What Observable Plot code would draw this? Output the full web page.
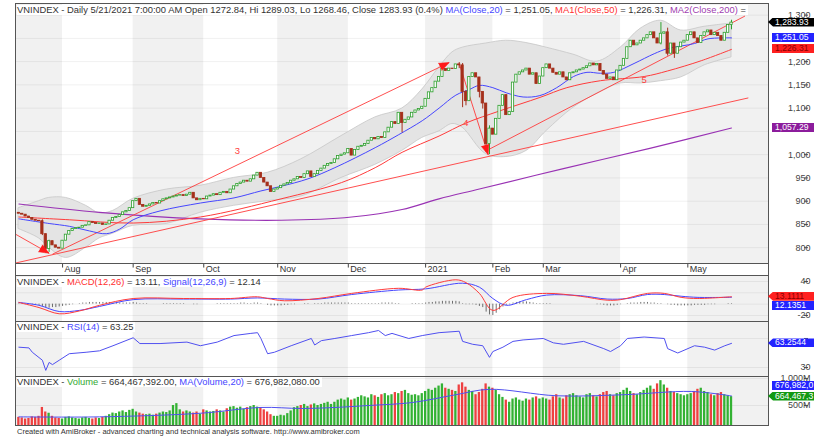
<!DOCTYPE html>
<html><head><meta charset="utf-8">
<script src="https://cdn.jsdelivr.net/npm/d3@7"></script>
<script src="https://cdn.jsdelivr.net/npm/@observablehq/plot@0.6"></script>
<style>
html,body{margin:0;padding:0;background:#fff;}
#wrap{position:relative;width:839px;height:446px;overflow:hidden;background:#fff;font-family:"Liberation Sans",Arial,sans-serif;}
#wrap svg{position:absolute;left:0;}
.t{position:absolute;left:17px;font-size:9.4px;color:#333;white-space:nowrap;line-height:10px;background:#fff;padding-right:2px;}
.lbl{position:absolute;height:9px;line-height:9px;font-size:8.6px;white-space:nowrap;overflow:hidden;text-align:left;}
.hl{position:absolute;background:#555;}
</style></head><body><div id="wrap"></div>
<script>
// ---------------- data ----------------
const monthLabels = ["Aug","Sep","Oct","Nov","Dec","2021","Feb","Mar","Apr","May"];
const monthStart  = [13, 34, 55, 77, 98, 121, 141, 156, 179, 199];
const shadedMonths = [[-1,13],[34,55],[77,98],[121,141],[156,179],[199,224]];

const firstOpen = 875;
const closes = [
 873,871,867,864,860,858,857,829,797,814,805,800,798,
 815,828,836,840,842,843,847,848,855,853,851,852,849,850,858,864,866,870,876,879,885,
 900,905,892,888,890,893,896,895,900,904,906,908,910,912,913,911,914,918,906,902,905,
 904,910,912,915,913,918,920,917,925,932,937,940,944,942,947,955,961,950,940,932,920,925,
 928,933,936,939,944,947,952,950,958,964,952,958,965,970,976,980,982,990,997,1000,1003,
 1012,998,1010,1017,1019,1023,1030,1036,1033,1038,1036,1048,1058,1070,1066,1090,1068,1075,1080,1090,1095,1098,1103,
 1120,1134,1143,1157,1167,1184,1180,1185,1184,1194,1192,1135,1115,1167,1175,1166,1135,1110,1023,1056,
 1043,1077,1105,1128,1085,1092,1155,1172,1177,1181,1185,1172,1175,1152,1168,
 1186,1194,1185,1176,1172,1177,1166,1160,1175,1177,1181,1183,1186,1190,1196,1192,1195,1180,1172,1163,1166,1160,1181,
 1191,1206,1231,1245,1235,1239,1245,1250,1257,1263,1250,1239,1260,1263,1217,1239,1217,1231,1241,1245,
 1257,1263,1250,1240,1255,1263,1267,1257,1262,1255,1245,1262,1278.8,1283.93
];
// [bar, high, low] for visible wicks
const wicks = [[7,860,826],[8,830,788],[9,816,790],[114,1090,1047],[131,1198,1185],[132,1196,1101],
 [133,1138,1105],[137,1166,1122],[138,1135,1098],[139,1110,1005],[140,1062,1000],[191,1284,1236],
 [193,1272,1212],[195,1239,1207],[212,1289.03,1268.46]];

const volumes = [
 280,270,250,260,290,280,300,464,380,357,300,270,260,
 250,280,290,270,260,250,270,280,260,250,270,260,280,300,330,360,350,380,400,370,410,
 430,380,360,340,330,340,320,340,360,380,370,400,500,535,420,380,400,380,360,380,340,
 420,400,380,390,420,400,380,440,470,480,450,470,430,460,480,500,470,460,420,380,330,300,
 300,320,310,350,400,460,480,500,520,480,510,530,500,520,540,560,520,560,600,620,600,
 640,600,620,650,680,660,640,700,680,650,700,720,680,700,740,720,760,780,720,690,700,680,720,
 760,800,780,820,860,900,820,800,780,760,880,920,840,780,760,700,740,800,900,840,
 820,780,700,650,600,560,620,640,600,580,620,600,640,660,620,
 640,620,600,660,700,640,620,680,700,720,680,660,640,700,720,680,660,700,740,760,700,680,720,
 740,780,820,760,720,700,740,780,820,860,800,900,960,880,820,760,740,720,700,680,
 700,720,760,800,820,760,740,700,680,720,740,700,680,664.467
];
const volMa = [[0,290],[24,290],[54,357],[72,464],[84,445],[94,464],[104,500],[117,555],[130,700],[140,800],[160,680],[180,700],[200,760],[212,676.982]];

const ma20 = [[0,862],[9,852],[15,846],[21,836],[26,830],[30,840],[34,860],[42,879],[54,896],[64,907],[72,922],[78,932],[86,948],[94,972],[106,1015],[113,1043],[120,1073],[125,1100],[130,1128],[134,1140],[137,1149],[141,1144],[145,1133],[150,1124],[155,1127],[160,1144],[165,1168],[169,1177],[173,1175],[177,1177],[183,1196],[189,1217],[193,1228],[201,1239],[205,1249],[212,1251.05]];
const ma50 = [[0,866],[15,860],[34,853],[54,866],[78,905],[96,940],[106,972],[114,1005],[125,1040],[133,1068],[143,1094],[155,1123],[163,1144],[173,1159],[186,1168],[193,1180],[203,1202],[212,1226.31]];
const ma200 = [[0,894],[24,876],[54,862],[78,859],[99,866],[114,882],[125,905],[137,926],[162,970],[188,1014],[212,1057.29]];

const bbIdx   = [0,6,9,14,20,24,28,34,44,54,64,74,84,96,106,114,120,125,129,132,139,145,151,157,165,172,179,185,191,197,204,212];
const bbUpper = [885,900,907,907,890,874,879,905,925,933,950,961,990,1040,1080,1099,1140,1187,1220,1230,1239,1245,1240,1230,1215,1200,1230,1271,1288,1267,1275,1282];
const bbLower = [840,820,800,778,800,820,830,847,851,875,890,900,910,950,978,1008,1036,1050,1066,1058,1001,995,1008,1051,1101,1131,1153,1153,1158,1166,1192,1209];

// trend lines: [bar1, value1, bar2, value2]
const trendLines = [[-1,767,217,1122],[140,1012,216,1298]];
// arrows with filled heads: [bar1, value1, bar2, value2]
const arrowLines = [[10,786,128,1198],[-1,829,9,788],[131,1196,139.6,1000]];
const trendLabels = [[65,1008,"3"],[133,1069,"4"],[186,1161,"5"]];

const macdPts = [[0,3],[6,-6],[12,-17],[18,-12],[24,-2],[34,10],[49,10],[63,10],[71,13],[74,10],[79,6],[89,10],[99,19],[113,28],[120,25],[121,30],[130,43],[133,38],[137,19],[141,-11],[147,12],[157,19],[167,14],[175,7],[179,8],[187,19],[192,19],[197,12],[202,10],[212,13.11]];
const signalPts = [[0,3],[6,-2],[12,-13],[18,-11],[24,-4],[34,8],[49,9],[63,9],[71,11],[79,9],[89,9],[99,17],[113,25],[121,27],[132,37],[137,30],[141,10],[145,-2],[151,8],[157,16],[167,15],[175,9],[181,10],[187,17],[192,17],[197,14],[202,12],[212,12.14]];
const hist = [
 1,1,0,-1,-1,-2,-2,-4,-6,-7,-6,-6,-5,
 -4,-3,-2,-1,0,1,2,2,3,3,3,3,3,3,3,2,2,2,2,2,2,
 3,2,1,1,1,0,0,0,0,1,1,1,1,1,1,1,0,0,-1,-1,0,
 0,0,0,0,1,1,1,1,1,1,1,2,2,1,1,2,2,1,0,-2,-3,-3,
 -3,-3,-2,-2,-1,-1,0,0,1,1,0,1,1,1,2,2,2,2,2,2,2,
 2,1,1,1,1,1,1,1,1,1,2,2,2,2,1,1,0,0,0,1,1,1,1,
 2,3,3,4,4,5,5,5,5,5,4,1,-1,-1,-1,-2,-4,-6,-14,-19,
 -20,-16,-10,-5,-2,-1,2,3,4,4,4,3,2,1,1,
 1,1,1,0,0,0,0,0,0,0,0,0,0,0,0,0,-1,-1,-2,-3,-3,-3,-2,
 -1,0,1,2,2,2,3,3,3,2,2,1,1,0,-1,-2,-2,-3,-3,-3,
 -3,-3,-2,-2,-2,-2,-1,-1,-1,0,0,0,1,1
];

const rsiPts = [[0,58],[3,57],[4,51],[7,40],[8,26],[9,37],[10,34],[12,40],[15,49],[20,51],[24,53],[28,60],[34,71],[36,63],[42,63],[50,65],[54,60],[59,65],[64,74],[69,77],[71,78],[72,70],[74,49],[76,51],[81,60],[87,70],[88,61],[90,67],[94,70],[99,74],[104,78],[107,81],[109,74],[111,77],[116,70],[120,74],[125,78],[131,80],[132,66],[135,62],[138,60],[140,44],[141,52],[144,58],[147,66],[150,68],[156,70],[159,64],[162,62],[168,66],[174,56],[176,52],[179,60],[181,70],[186,72],[192,70],[193,56],[196,50],[201,60],[204,58],[207,54],[210,60],[212,63.25]];

const priceTicks = [800,850,900,950,1000,1050,1100,1150,1200,1250,1300];
const macdTicks = [40,20,0,-20];
const rsiTicks = [70,30];
const volTicks = [500,1000];

// ---------------- build ----------------
const wrap = document.getElementById("wrap");
const W = 839, XL = 15, XR = 768;
const xDomain = [-1, 223];
const FONT = '"Liberation Sans", Arial, sans-serif';
const UP = "#2ea02e", DN = "#a5301c", RED = "#ff3b3b", BLUE = "#4646ff", PURPLE = "#9932b4";

const wickMap = new Map(wicks.map(w => [w[0], w]));
const bars = closes.map((c, i) => {
  const o = i === 0 ? firstOpen : closes[i - 1];
  const w = wickMap.get(i);
  return {i, o, c, h: w ? w[1] : Math.max(o, c), l: w ? w[2] : Math.min(o, c), up: c >= o, v: volumes[i], hist: hist[i]};
});
const bands = shadedMonths.map(([a, b]) => ({a, b}));
const bb = bbIdx.map((i, k) => ({i, hi: bbUpper[k], lo: bbLower[k]}));

function pane(top, height, yDomain, ticks, labelTicks, fmt, marks) {
  const svg = Plot.plot({
    width: W, height, marginLeft: XL, marginRight: W - XR, marginTop: 0, marginBottom: 0,
    x: {domain: xDomain, axis: null},
    y: {domain: yDomain, axis: null},
    style: {background: "transparent", fontFamily: FONT, overflow: "visible"},
    marks: [
      Plot.rect(bands, {x1: "a", x2: "b", y1: () => yDomain[0], y2: () => yDomain[1], fill: "#f1f1f1", clip: true}),
      Plot.gridY(ticks, {stroke: "#000", strokeOpacity: 0.06}),
      ...marks,
      Plot.axisY(ticks, {anchor: "right", label: null, tickSize: 4, tickPadding: 3, textAnchor: "end", dx: 35,
        tickFormat: d => labelTicks.includes(d) ? fmt(d) : "", fill: "#444", fontSize: 9, stroke: "#555"})
    ]
  });
  svg.style.top = top + "px";
  wrap.appendChild(svg);
  return svg;
}

// price pane
const priceTop = 3, priceH = 260;
const price = pane(priceTop, priceH, [766, 1325], priceTicks, priceTicks.filter(d => d !== 1050 && d !== 1250), d3.format(","), [
  Plot.areaY(bb, {x: "i", y1: "lo", y2: "hi", curve: "catmull-rom", fill: "#e4e4e4", stroke: "#c6c6c6", strokeWidth: 0.8}),
  Plot.line(ma200, {x: d => d[0], y: d => d[1], curve: "catmull-rom", stroke: PURPLE, strokeWidth: 1.1}),
  Plot.line(ma50, {x: d => d[0], y: d => d[1], curve: "catmull-rom", stroke: RED, strokeWidth: 1}),
  Plot.link(trendLines, {x1: d => d[0], y1: d => d[1], x2: d => d[2], y2: d => d[3], stroke: RED, strokeWidth: 0.9, clip: true}),
  Plot.link(arrowLines, {x1: d => d[0], y1: d => d[1], x2: d => d[2], y2: d => d[3], stroke: RED, strokeWidth: 0.9, clip: true}),
  Plot.line(ma20, {x: d => d[0], y: d => d[1], curve: "catmull-rom", stroke: BLUE, strokeWidth: 1}),
  Plot.ruleX(bars, {x: "i", y1: "l", y2: "h", stroke: d => d.up ? UP : DN, strokeWidth: 1}),
  Plot.rect(bars, {x1: d => d.i - 0.34, x2: d => d.i + 0.34, y1: "o", y2: "c", fill: d => d.up ? "#fff" : DN, stroke: d => d.up ? UP : DN, strokeWidth: 0.8}),
  Plot.text(trendLabels, {x: d => d[0], y: d => d[1], text: d => d[2], fill: "#ff4040", fontSize: 9.5})
]);
// filled arrowheads, direction taken from each arrow's own screen slope
{
  const sx = price.scale("x"), sy = price.scale("y");
  const heads = arrowLines.map(([a, b, c, d]) => {
    const dx = sx.apply(c) - sx.apply(a), dy = sy.apply(d) - sy.apply(b);
    return {x: c, y: d, rot: Math.atan2(dx, -dy) * 180 / Math.PI};
  });
  const hs = Plot.plot({
    width: W, height: priceH, marginLeft: XL, marginRight: W - XR, marginTop: 0, marginBottom: 0,
    x: {domain: xDomain, axis: null}, y: {domain: [766, 1325], axis: null},
    style: {background: "transparent", overflow: "visible"},
    marks: [Plot.vector(heads, {x: "x", y: "y", rotate: "rot", length: 10, r: 4, shape: "spike", anchor: "end", fill: "#ff1a1a", stroke: "#ff1a1a", strokeWidth: 0.5})]
  });
  hs.style.top = priceTop + "px";
  wrap.appendChild(hs);
}

// date strip
const strip = Plot.plot({
  width: W, height: 12, marginLeft: XL, marginRight: W - XR, marginTop: 0, marginBottom: 0,
  x: {domain: xDomain, axis: null}, y: {domain: [0, 1], axis: null},
  style: {background: "transparent", fontFamily: FONT},
  marks: [
    Plot.ruleX(monthStart, {x: d => d, y1: () => 1, y2: () => 0.62, stroke: "#444"}),
    Plot.text(monthStart, {x: d => d, y: () => 0.5, text: (d, k) => monthLabels[k], textAnchor: "start", dx: 2, fontSize: 9, fill: "#333", fontWeight: (d, k) => monthLabels[k] === "2021" ? "bold" : "normal"})
  ]
});
strip.style.top = "263px";
wrap.appendChild(strip);

// MACD pane
const macdTop = 275, macdH = 46;
const macd = pane(macdTop, macdH, [-30.6, 50.6], macdTicks, [40, -20], d => d, [
  Plot.ruleX(bars, {x: "i", y1: () => 0, y2: "hist", stroke: "#333", strokeWidth: 0.7}),
  Plot.line(signalPts, {x: d => d[0], y: d => d[1], curve: "catmull-rom", stroke: BLUE, strokeWidth: 1}),
  Plot.line(macdPts, {x: d => d[0], y: d => d[1], curve: "catmull-rom", stroke: RED, strokeWidth: 1})
]);

// RSI pane
const rsiTop = 321, rsiH = 55;
const rsi = pane(rsiTop, rsiH, [17.6, 93.4], rsiTicks, [30], d => d, [
  Plot.line(rsiPts, {x: d => d[0], y: d => d[1], stroke: "#5050f0", strokeWidth: 1})
]);

// Volume pane
const volTop = 376, volH = 49;
const vol = pane(volTop, volH, [130, 1037], volTicks, volTicks, d => d3.format(",")(d) + "M", [
  Plot.rectY(bars, {x1: d => d.i - 0.34, x2: d => d.i + 0.34, y1: () => 0, y2: "v", fill: d => d.up ? "#33b233" : "#ee4040", clip: true}),
  Plot.line(volMa, {x: d => d[0], y: d => d[1], curve: "catmull-rom", stroke: "#5050f0", strokeWidth: 1})
]);

// frame lines
function hline(y){const d=document.createElement("div");d.className="hl";d.style.cssText=`left:${XL}px;top:${y}px;width:${XR-XL+1}px;height:1px`;wrap.appendChild(d);}
function vline(x,y1,y2){const d=document.createElement("div");d.className="hl";d.style.cssText=`left:${x}px;top:${y1}px;width:1px;height:${y2-y1}px`;wrap.appendChild(d);}
[priceTop, 263, 275, 321, 376, 425].forEach(hline);
vline(XL, priceTop, 426); vline(XR, priceTop, 426);

// titles
function title(top, html){const d=document.createElement("div");d.className="t";d.style.top=top+"px";d.innerHTML=html;wrap.appendChild(d);}
title(priceTop + 2, 'VNINDEX - Daily 5/21/2021 7:00:00 AM Open 1272.84, Hi 1289.03, Lo 1268.46, Close 1283.93 (0.4%) <span style="color:#4646ff">MA(Close,20)</span> = 1,251.05, <span style="color:#ff3030">MA1(Close,50)</span> = 1,226.31, <span style="color:#a040b0">MA2(Close,200)</span> = ');
title(macdTop + 2, 'VNINDEX - <span style="color:#ff3030">MACD(12,26)</span> = 13.11, <span style="color:#4646ff">Signal(12,26,9)</span> = 12.14');
title(rsiTop + 1, 'VNINDEX - <span style="color:#4646ff">RSI(14)</span> = 63.25');
title(volTop + 1, 'VNINDEX - <span style="color:#33aa33">Volume</span> = 664,467,392.00, <span style="color:#4646ff">MA(Volume,20)</span> = 676,982,080.00');
const foot = document.createElement("div");
foot.style.cssText = "position:absolute;left:17px;top:427px;font-size:7.5px;color:#333;white-space:nowrap;";
foot.textContent = "Created with AmiBroker - advanced charting and technical analysis software. http://www.amibroker.com";
wrap.appendChild(foot);

// value labels on right axis
function label(svg, top, v, text, bg, fg, arrow, nudge) {
  const y = top + svg.scale("y").apply(v) + (nudge || 0);
  const d = document.createElement("div");
  d.className = "lbl";
  const left = arrow ? 768 : 772;
  d.style.cssText += `left:${left}px;top:${(y - 4.5).toFixed(1)}px;width:${814 - left}px;background:${bg};color:${fg};padding-left:${arrow ? 7 : 3}px;box-sizing:border-box;` +
    (arrow ? "clip-path:polygon(0 50%,5px 0,100% 0,100% 100%,5px 100%);" : "");
  d.textContent = text;
  wrap.appendChild(d);
}
label(price, priceTop, 1283.93, "1,283.93", "#000", "#fff", true);
label(price, priceTop, 1251.05, "1,251.05", "#2323ff", "#fff", false);
label(price, priceTop, 1226.31, "1,226.31", "#ff2020", "#8a0000", false);
label(price, priceTop, 1057.29, "1,057.29", "#8c1c9c", "#fff", false);
label(macd, macdTop, 13.11, "13.1111", "#ff2020", "#8a0000", true);
label(macd, macdTop, 12.14, "12.1351", "#2323ff", "#fff", false, 8.5);
label(rsi, rsiTop, 63.25, "63.2544", "#2323ff", "#fff", true);
label(vol, volTop, 676.98, "676,982,0", "#2323ff", "#fff", false, -9.5);
label(vol, volTop, 664.47, "664,467,3", "#119911", "#fff", true);
</script></body></html>
